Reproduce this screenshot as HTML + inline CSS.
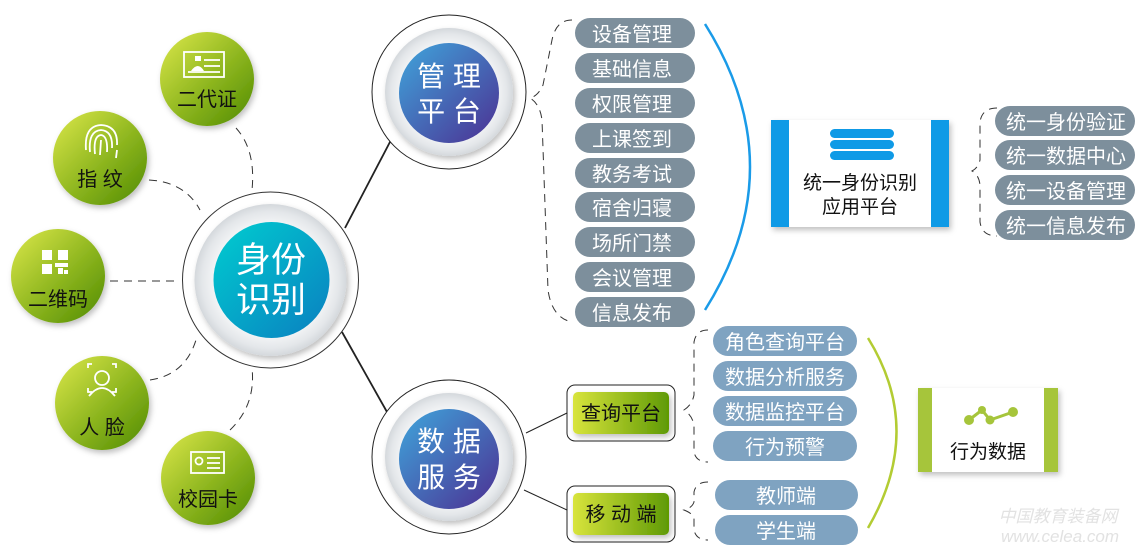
<!DOCTYPE html>
<html><head><meta charset="utf-8"><style>
html,body{margin:0;padding:0;background:#fff;}
svg{display:block;}
text{font-family:"Liberation Sans","Noto Sans CJK SC",sans-serif;}
</style></head><body>
<svg width="1142" height="551" viewBox="0 0 1142 551" xmlns="http://www.w3.org/2000/svg">
<defs>
<linearGradient id="gg" x1="0" y1="0" x2="1" y2="1"><stop offset="0" stop-color="#dde84a"/><stop offset="0.55" stop-color="#8cb51e"/><stop offset="1" stop-color="#4f8a00"/></linearGradient>
<linearGradient id="gb" x1="0" y1="0" x2="1" y2="0"><stop offset="0" stop-color="#d8e43c"/><stop offset="1" stop-color="#5f9a05"/></linearGradient>
<linearGradient id="cy" x1="0" y1="0" x2="1" y2="1"><stop offset="0" stop-color="#00cdd0"/><stop offset="1" stop-color="#0a7fc0"/></linearGradient>
<linearGradient id="pu" x1="0" y1="0" x2="1" y2="1"><stop offset="0" stop-color="#3fa6dc"/><stop offset="1" stop-color="#4c2f92"/></linearGradient>
<radialGradient id="ring" cx="0.5" cy="0.5" r="0.5"><stop offset="0.7" stop-color="#f7f8f9"/><stop offset="0.9" stop-color="#e4e7ea"/><stop offset="1" stop-color="#d4d8dc"/></radialGradient>
<filter id="sh" x="-30%" y="-30%" width="160%" height="160%"><feDropShadow dx="2" dy="3" stdDeviation="3" flood-color="#000" flood-opacity="0.25"/></filter>
</defs>

<g stroke="#222" stroke-width="1.8" fill="none">
<line x1="345" y1="228" x2="391" y2="140"/>
<line x1="342" y1="332" x2="387" y2="412"/>
</g>
<g stroke="#222" stroke-width="1" fill="none">
<line x1="526" y1="433" x2="567" y2="413"/>
<line x1="524" y1="490" x2="567" y2="510"/>
</g>
<g stroke="#333" stroke-width="1" stroke-dasharray="8,6" fill="none">
<path d="M236 128 Q256 150 252 190"/>
<path d="M149 180 Q185 182 200 210"/>
<path d="M110 281 L175 281"/>
<path d="M150 380 Q185 375 196 340"/>
<path d="M230 430 Q256 405 252 368"/>
<path d="M572 20 Q556 20 552 40 L543 85 Q538 96 530 98 Q540 104 542 120 L548 290 Q552 318 572 322"/>
<path d="M997 108 Q982 108 980 122 L980 160 Q978 168 972 171 Q979 175 980 185 L980 222 Q982 236 997 236"/>
<path d="M708 330 Q696 330 694 342 L694 395 Q692 405 684 410 Q692 415 694 425 L694 452 Q696 462 708 462"/>
<path d="M708 482 Q696 482 694 492 L694 502 Q692 508 684 510 Q692 513 694 518 L694 530 Q696 540 708 540"/>
</g>
<path d="M705 24 Q795 167 705 310" stroke="#1a9be8" stroke-width="2.5" fill="none"/>
<path d="M868 338 Q925 430 868 528" stroke="#b3cc33" stroke-width="2.5" fill="none"/>

<g filter="url(#sh)">
<circle cx="207" cy="79" r="47" fill="url(#gg)"/>
<circle cx="100" cy="158" r="47" fill="url(#gg)"/>
<circle cx="58" cy="276" r="47" fill="url(#gg)"/>
<circle cx="102" cy="403" r="47" fill="url(#gg)"/>
<circle cx="208" cy="478" r="47" fill="url(#gg)"/>
</g>
<g fill="#111" font-size="20" text-anchor="middle">
<text x="207" y="106">二代证</text>
<text x="100" y="186">指 纹</text>
<text x="58" y="306">二维码</text>
<text x="102" y="434">人 脸</text>
<text x="208" y="506">校园卡</text>
</g>
<g stroke="#fff" stroke-width="1.8" fill="none">
<rect x="184" y="52" width="40" height="25"/>
<line x1="204" y1="60" x2="220" y2="60"/><line x1="204" y1="66" x2="220" y2="66"/><line x1="188" y1="72" x2="220" y2="72"/>
<path d="M86 150 Q84 126 101 125 Q118 126 117 145 M90 152 Q88 131 101 130 Q113 131 112 148 M95 154 Q93 136 101 135 Q108 136 107 152 M100 155 L101 140 M117 150 L116 158"/>
<rect x="191" y="452" width="33" height="21"/>
<circle cx="199" cy="461" r="3.5"/><line x1="207" y1="458" x2="220" y2="458"/><line x1="207" y1="463" x2="220" y2="463"/><line x1="207" y1="468" x2="220" y2="468"/>
<circle cx="102" cy="378" r="7"/><path d="M89 396 Q102 380 115 396"/>
<path d="M88 368 v-4 h4 M112 364 h4 v4 M88 388 v4 h4 M116 388 v4 h-4"/>
</g>
<g fill="#fff"><rect x="195" y="56" width="6" height="5"/><path d="M191 71 Q198 61 204 71z"/>
<rect x="42" y="250" width="10" height="10"/><rect x="58" y="250" width="10" height="10"/><rect x="42" y="264" width="10" height="10"/><rect x="55" y="263" width="13" height="4"/><rect x="58" y="268" width="5" height="6"/><rect x="64" y="270" width="4" height="4"/></g>

<circle cx="270.5" cy="280" r="88" fill="#fff" stroke="#333" stroke-width="1"/>
<circle cx="270.5" cy="280" r="76" fill="url(#ring)" filter="url(#sh)"/>
<circle cx="271.5" cy="280" r="58" fill="url(#cy)"/>
<g fill="#fff" font-size="35" text-anchor="middle"><text x="271" y="272">身份</text><text x="271" y="312">识别</text></g>

<circle cx="449" cy="92" r="77" fill="#fff" stroke="#222" stroke-width="1"/>
<circle cx="449" cy="92" r="64" fill="url(#ring)" filter="url(#sh)"/>
<circle cx="449" cy="93" r="50" fill="url(#pu)"/>
<g fill="#fff" font-size="28" text-anchor="middle"><text x="449" y="86">管 理</text><text x="449" y="121">平 台</text></g>

<circle cx="449" cy="457" r="77" fill="#fff" stroke="#222" stroke-width="1"/>
<circle cx="449" cy="457" r="64" fill="url(#ring)" filter="url(#sh)"/>
<circle cx="449" cy="459" r="50" fill="url(#pu)"/>
<g fill="#fff" font-size="28" text-anchor="middle"><text x="449" y="451">数 据</text><text x="449" y="487">服 务</text></g>

<g fill="#7d8f9c">
<rect x="575" y="18" width="120" height="30" rx="15"/>
<rect x="575" y="53" width="120" height="30" rx="15"/>
<rect x="575" y="88" width="120" height="30" rx="15"/>
<rect x="575" y="123" width="120" height="30" rx="15"/>
<rect x="575" y="158" width="120" height="30" rx="15"/>
<rect x="575" y="192" width="120" height="30" rx="15"/>
<rect x="575" y="227" width="120" height="30" rx="15"/>
<rect x="575" y="262" width="120" height="30" rx="15"/>
<rect x="575" y="297" width="120" height="30" rx="15"/>
<rect x="995" y="106" width="140" height="30" rx="15"/>
<rect x="995" y="140" width="140" height="30" rx="15"/>
<rect x="995" y="175" width="140" height="30" rx="15"/>
<rect x="995" y="210" width="140" height="30" rx="15"/>
</g>
<g fill="#fff" font-size="20" text-anchor="middle">
<text x="632" y="41">设备管理</text><text x="632" y="76">基础信息</text><text x="632" y="111">权限管理</text>
<text x="632" y="146">上课签到</text><text x="632" y="181">教务考试</text><text x="632" y="215">宿舍归寝</text>
<text x="632" y="250">场所门禁</text><text x="632" y="285">会议管理</text><text x="632" y="320">信息发布</text>
<text x="1066" y="129">统一身份验证</text><text x="1066" y="163">统一数据中心</text><text x="1066" y="198">统一设备管理</text><text x="1066" y="233">统一信息发布</text>
</g>

<g filter="url(#sh)"><rect x="771" y="120" width="178" height="107" fill="#fff"/></g>
<rect x="771" y="120" width="18" height="107" fill="#0f9ae6"/>
<rect x="931" y="120" width="18" height="107" fill="#0f9ae6"/>
<g fill="#0f9ae6"><rect x="830" y="129" width="64" height="9" rx="4.5"/><rect x="830" y="140" width="64" height="9" rx="4.5"/><rect x="830" y="151" width="64" height="9" rx="4.5"/></g>
<g fill="#111" font-size="19" text-anchor="middle"><text x="860" y="189">统一身份识别</text><text x="860" y="213">应用平台</text></g>

<rect x="567" y="385" width="108" height="56" rx="8" fill="#fff" stroke="#222" stroke-width="1"/>
<rect x="573" y="392" width="96" height="42" rx="5" fill="url(#gb)" filter="url(#sh)"/>
<rect x="567" y="486" width="108" height="56" rx="8" fill="#fff" stroke="#222" stroke-width="1"/>
<rect x="573" y="493" width="96" height="42" rx="5" fill="url(#gb)" filter="url(#sh)"/>
<g fill="#111" font-size="20" text-anchor="middle"><text x="621" y="420">查询平台</text><text x="621" y="521">移 动 端</text></g>

<g fill="#7fa3c1">
<rect x="713" y="326" width="144" height="30" rx="15"/>
<rect x="713" y="361" width="144" height="30" rx="15"/>
<rect x="713" y="396" width="144" height="30" rx="15"/>
<rect x="713" y="431" width="144" height="30" rx="15"/>
<rect x="715" y="480" width="143" height="30" rx="15"/>
<rect x="715" y="515" width="143" height="30" rx="15"/>
</g>
<g fill="#fff" font-size="20" text-anchor="middle">
<text x="785" y="349">角色查询平台</text><text x="785" y="384">数据分析服务</text><text x="785" y="419">数据监控平台</text><text x="785" y="454">行为预警</text>
<text x="786" y="503">教师端</text><text x="786" y="538">学生端</text>
</g>

<g filter="url(#sh)"><rect x="918" y="388" width="140" height="84" fill="#fff"/></g>
<rect x="918" y="388" width="14" height="84" fill="#a6c53b"/>
<rect x="1044" y="388" width="14" height="84" fill="#a6c53b"/>
<path d="M969 420 L982 410 L990 420 L1013 412" stroke="#a6c53b" stroke-width="3" fill="none"/>
<g fill="#a6c53b"><circle cx="969" cy="420" r="5"/><circle cx="982" cy="410" r="4"/><circle cx="990" cy="420" r="4.5"/><circle cx="1013" cy="412" r="5"/></g>
<text x="988" y="458" fill="#111" font-size="19" text-anchor="middle">行为数据</text>

<g fill="#e2e2e2" font-size="17" text-anchor="middle" font-style="italic"><text x="1058" y="522">中国教育装备网</text><text x="1060" y="542">www.celea.com</text></g>
</svg>
</body></html>
